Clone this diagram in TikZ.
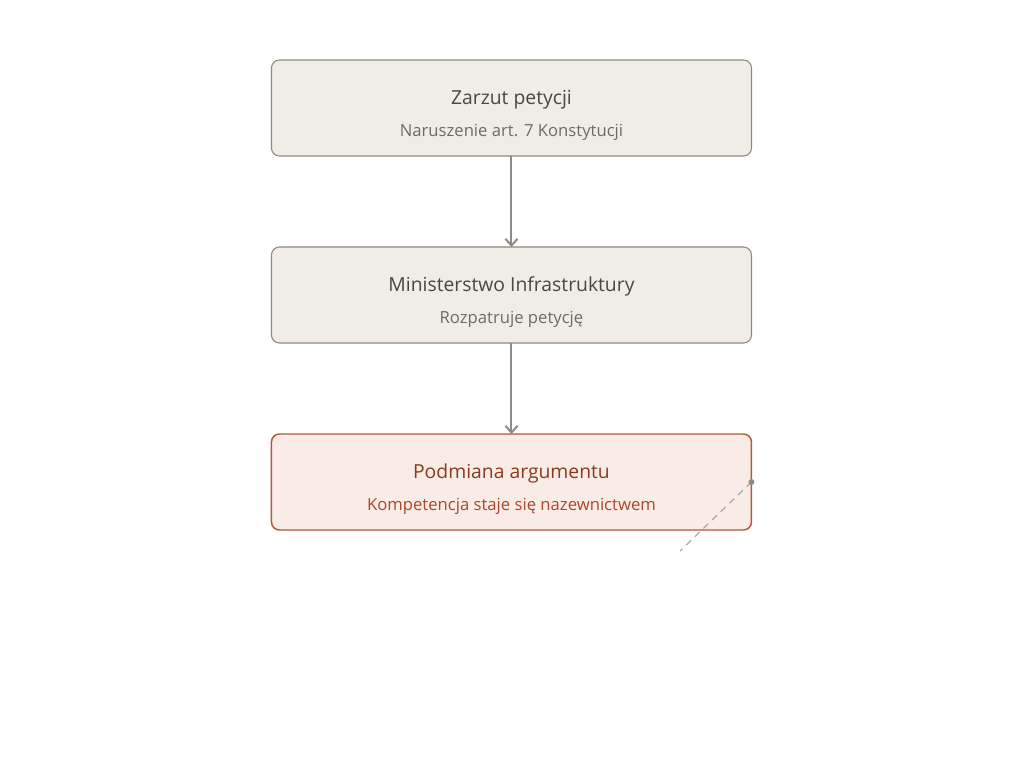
\documentclass[tikz,border=0pt]{standalone}
\usepackage{fontspec}
\setmainfont{Open Sans}
\usepackage{xcolor}
\usetikzlibrary{arrows.meta,positioning}

\definecolor{boxfill}{HTML}{F0EDE6}
\definecolor{boxline}{HTML}{8C8781}
\definecolor{hotfill}{HTML}{F9ECE6}
\definecolor{hotline}{HTML}{B5573A}
\definecolor{hottitle}{HTML}{8B3A1E}
\definecolor{hotsub}{HTML}{A8472A}
\definecolor{linkgray}{HTML}{8A8A86}

\begin{document}
\begin{tikzpicture}[
  node distance=68.25pt,
  >={Straight Barb[length=5pt, width=9pt]},
  card/.style={draw=boxline, line width=0.8pt, rounded corners=6pt, fill=boxfill, minimum width=360pt, minimum height=72pt, outer sep=0pt},
  hotcard/.style={card, draw=hotline, line width=1.1pt, fill=hotfill},
  title/.style={font=\fontsize{14.5pt}{17pt}\selectfont, text=black!72},
  sub/.style={font=\fontsize{12.5pt}{15pt}\selectfont, text=black!58},
  arrow/.style={->, line width=1.5pt, color=linkgray}
]
\useasboundingbox (0,0) rectangle (768pt,-582.75pt);

\node[card] (zarzut) at (383.6pt,-81pt) {};
\node[card, below=of zarzut] (min) {};
\node[hotcard, below=of min] (podm) {};

\node[title] (zarzutT) at ([yshift=6.5pt]zarzut.center) {Zarzut petycji};
\node[sub] (zarzutS) at ([yshift=-18.5pt]zarzut.center) {Naruszenie art. 7 Konstytucji};
\node[title] (minT) at ([yshift=6.5pt]min.center) {Ministerstwo Infrastruktury};
\node[sub] (minS) at ([yshift=-18.5pt]min.center) {Rozpatruje petycję};
\node[title, text=hottitle] (podmT) at ([yshift=6.5pt]podm.center) {Podmiana argumentu};
\node[sub, text=hotsub] (podmS) at ([yshift=-18.5pt]podm.center) {Kompetencja staje się nazewnictwem};

\draw[arrow] (zarzut)--(min);
\draw[arrow] (min)--(podm);

% note leader
\coordinate (tail) at (510pt,-413.25pt);
\draw[linkgray!80, line width=0.8pt, dash pattern=on 5pt off 4pt] (podm.east)--(tail);
\fill[linkgray] (podm.east) circle (2.2pt);

\end{tikzpicture}
\end{document}
